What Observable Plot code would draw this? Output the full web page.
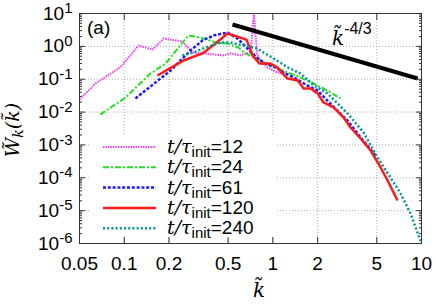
<!DOCTYPE html>
<html><head><meta charset="utf-8">
<script src="https://cdn.jsdelivr.net/npm/d3@7"></script>
<script src="https://cdn.jsdelivr.net/npm/@observablehq/plot@0.6"></script>
<style>body{margin:0;background:#fff}#wrap{width:436px;height:304px}</style>
</head><body><div id="wrap"></div>
<script>
// ---- data ----
const xTickLabels = ["0.05","0.1","0.2","0.5","1","2","5","10"];
const yExponents = [-6,-5,-4,-3,-2,-1,0,1];
const seriesLabels = ["12","24","61","120","240"];

const k12 = [0.05,0.064,0.094,0.125,0.155,0.184,0.246,0.288,0.341,0.411,0.466,0.519,0.605,0.654,0.707,0.745,0.785,0.851,0.92,1.07,1.22];
const w12 = [0.024,0.074,0.23,1.06,0.80,1.73,1.41,0.65,0.61,0.56,0.53,0.61,0.53,0.61,0.65,10,0.55,0.30,0.23,0.16,0.15];

const k24 = [0.069,0.102,0.150,0.190,0.270,0.326,0.411,0.495,0.587,0.654,0.742,0.826,0.964,1.256,1.535,1.88,2.33,2.85];
const w24 = [0.0084,0.0278,0.149,0.30,2.14,1.86,1.31,1.22,0.92,0.61,0.46,0.37,0.26,0.16,0.113,0.074,0.045,0.026];

const k61 = [0.119,0.205,0.279,0.336,0.399,0.495,0.578,0.676,0.789,0.893,1.04,1.18,1.38,1.71,2.0,2.44,3.18,3.89,4.91];
const w61 = [0.026,0.184,0.75,1.51,2.14,2.64,1.73,0.86,0.43,0.30,0.23,0.16,0.113,0.064,0.045,0.018,0.0055,0.0017,0.00048];

const k120 = [0.167,0.25,0.336,0.411,0.495,0.665,0.73,0.81,0.964,1.07,1.16,1.256,1.47,1.61,1.79,2.0,2.19,2.56,2.99,3.33,3.89,4.54,5.31,5.91,6.90];
const w120 = [0.13,0.37,0.61,1.22,2.46,1.6,0.53,0.30,0.30,0.23,0.15,0.105,0.091,0.052,0.052,0.037,0.0196,0.0138,0.0068,0.0034,0.00157,0.00068,0.000206,0.0000828,0.0000204];

const k240 = [0.246,0.292,0.352,0.445,0.519,0.635,0.789,0.865,1.01,1.256,1.535,1.88,2.33,3.18,4.07,5.06,6.19,7.23,8.44,10];
const w240 = [0.53,0.65,0.92,1.31,1.31,1.06,0.86,0.65,0.43,0.23,0.149,0.066,0.037,0.0091,0.0024,0.00041,0.000102,0.0000333,0.0000082,0.000001];

const refK = [0.535, 9.42];
const refW = [4.63, 0.105];

// ---- styles ----
const styles = [
  {stroke:"#ee44ee", width:2, dash:"1.5,1"},
  {stroke:"#22e022", width:2, dash:"6,2,2,2"},
  {stroke:"#1a1aff", width:2.5, dash:"3,1.8"},
  {stroke:"#ff1a1a", width:2.5, dash:null},
  {stroke:"#009494", width:2.5, dash:"2,2.2"}
];
const ks = [k12,k24,k61,k120,k240];
const ws = [w12,w24,w61,w120,w240];

const xTicks = xTickLabels.map(Number);
const yTicks = yExponents.map(e => 10 ** e);
const yMinor = [];
for (const e of yExponents.slice(0,-1)) for (let m = 2; m <= 9; m++) yMinor.push(m * 10 ** e);

const tables = ks.map((k,i) => k.map((v,j) => ({k:v, w:ws[i][j]})));
const refTable = refK.map((v,j) => ({k:v, w:refW[j]}));

const grid = {stroke:"#999", strokeOpacity:1, strokeDasharray:"1,2", strokeWidth:0.8};

const chart = Plot.plot({
  width: 436, height: 304,
  marginLeft: 79, marginRight: 15, marginTop: 13, marginBottom: 61,
  style: {fontFamily: "'Liberation Sans', Arial, sans-serif", fontSize: "18px", background: "#fff"},
  x: {type: "log", domain: [0.05, 10]},
  y: {type: "log", domain: [1e-6, 10]},
  marks: [
    Plot.gridX(xTicks, grid),
    Plot.gridY(yTicks, grid),
    ...tables.map((t,i) => Plot.line(t, {x:"k", y:"w", stroke: styles[i].stroke, strokeWidth: styles[i].width,
      strokeDasharray: styles[i].dash, strokeLinecap: "butt", strokeLinejoin: "miter", clip: true})),
    Plot.line(refTable, {x:"k", y:"w", stroke:"#000", strokeWidth:4, strokeLinecap:"butt"}),
    Plot.frame({stroke:"#333", strokeWidth:1}),
    Plot.axisX(xTicks, {anchor:"bottom", tickSize:-6, text:null, label:null, stroke:"#333"}),
    Plot.axisX(xTicks, {anchor:"top", tickSize:-6, text:null, label:null, stroke:"#333"}),
    Plot.axisY(yTicks, {anchor:"left", tickSize:-6, text:null, label:null, stroke:"#333"}),
    Plot.axisY(yTicks, {anchor:"right", tickSize:-6, text:null, label:null, stroke:"#333"}),
    Plot.axisY(yMinor, {anchor:"left", tickSize:-3, text:null, label:null, stroke:"#333"}),
    Plot.axisY(yMinor, {anchor:"right", tickSize:-3, text:null, label:null, stroke:"#333"}),
    Plot.text(xTicks, {x: d => d, frameAnchor: "bottom", dy: 20, lineAnchor: "middle", text: (d, i) => xTickLabels[i], fontSize: 19, fill: "#000"}),
    Plot.axisY(yTicks, {anchor:"left", tickSize:0, tickPadding:7, label:null, fontSize:19, fill:"#000", tickFormat: d => "10|" + Math.round(Math.log10(d))})
  ]
});
document.getElementById("wrap").appendChild(chart);

// superscripts for y tick labels
chart.querySelectorAll('g[aria-label="y-axis tick label"] text').forEach(t => {
  const [base, exp] = t.textContent.split("|");
  t.textContent = base;
  const sp = document.createElementNS("http://www.w3.org/2000/svg", "tspan");
  sp.setAttribute("font-size", "15");
  sp.setAttribute("dy", "-6.5");
  sp.textContent = exp;
  t.appendChild(sp);
});

const svg = d3.select(chart);
const serif = "'DejaVu Serif', 'Liberation Serif', serif";
const sans = "'Liberation Sans', Arial, sans-serif";

// legend
const lg = svg.append("g").attr("text-anchor", "start");
lg.append("rect").attr("x", 89).attr("y", 136).attr("width", 188).attr("height", 101).attr("fill", "#fff");
seriesLabels.forEach((lab, i) => {
  const y = 147 + i * 20.3;
  const s = styles[i];
  lg.append("line").attr("x1", 103).attr("x2", 156).attr("y1", y).attr("y2", y)
    .attr("stroke", s.stroke).attr("stroke-width", s.width).attr("stroke-dasharray", s.dash);
  const t = lg.append("text").attr("x", 167).attr("y", y + 6).attr("font-size", 19).attr("font-family", sans).attr("text-anchor", "start");
  t.append("tspan").attr("font-family", serif).attr("font-style", "italic").text("t/τ");
  t.append("tspan").attr("font-size", 15).attr("dy", 4).text("init");
  t.append("tspan").attr("dy", -4).text("=" + lab);
});

// annotations
svg.append("text").attr("x", 87).attr("y", 34).attr("font-size", 19).attr("font-family", sans).attr("text-anchor", "start").text("(a)");
const kl = svg.append("text").attr("x", 332).attr("y", 45).attr("font-family", serif).attr("text-anchor", "start");
kl.append("tspan").attr("font-size", 20).attr("font-style", "italic").text("k\u0303");
kl.append("tspan").attr("font-size", 16).attr("font-family", sans).attr("dy", -11).text("-4/3");

svg.append("text").attr("x", 259).attr("y", 297).attr("text-anchor", "middle").attr("font-size", 20)
  .attr("font-family", serif).attr("font-style", "italic").text("k\u0303");

const yl = svg.append("text").attr("transform", "translate(19,130) rotate(-90)").attr("text-anchor", "middle")
  .attr("font-family", serif).attr("font-style", "italic").attr("font-size", 19);
yl.append("tspan").text("W\u0303");
yl.append("tspan").attr("font-size", 14).attr("dy", 4).text("k");
yl.append("tspan").attr("dy", -4).text("(k\u0303)");
</script></body></html>
